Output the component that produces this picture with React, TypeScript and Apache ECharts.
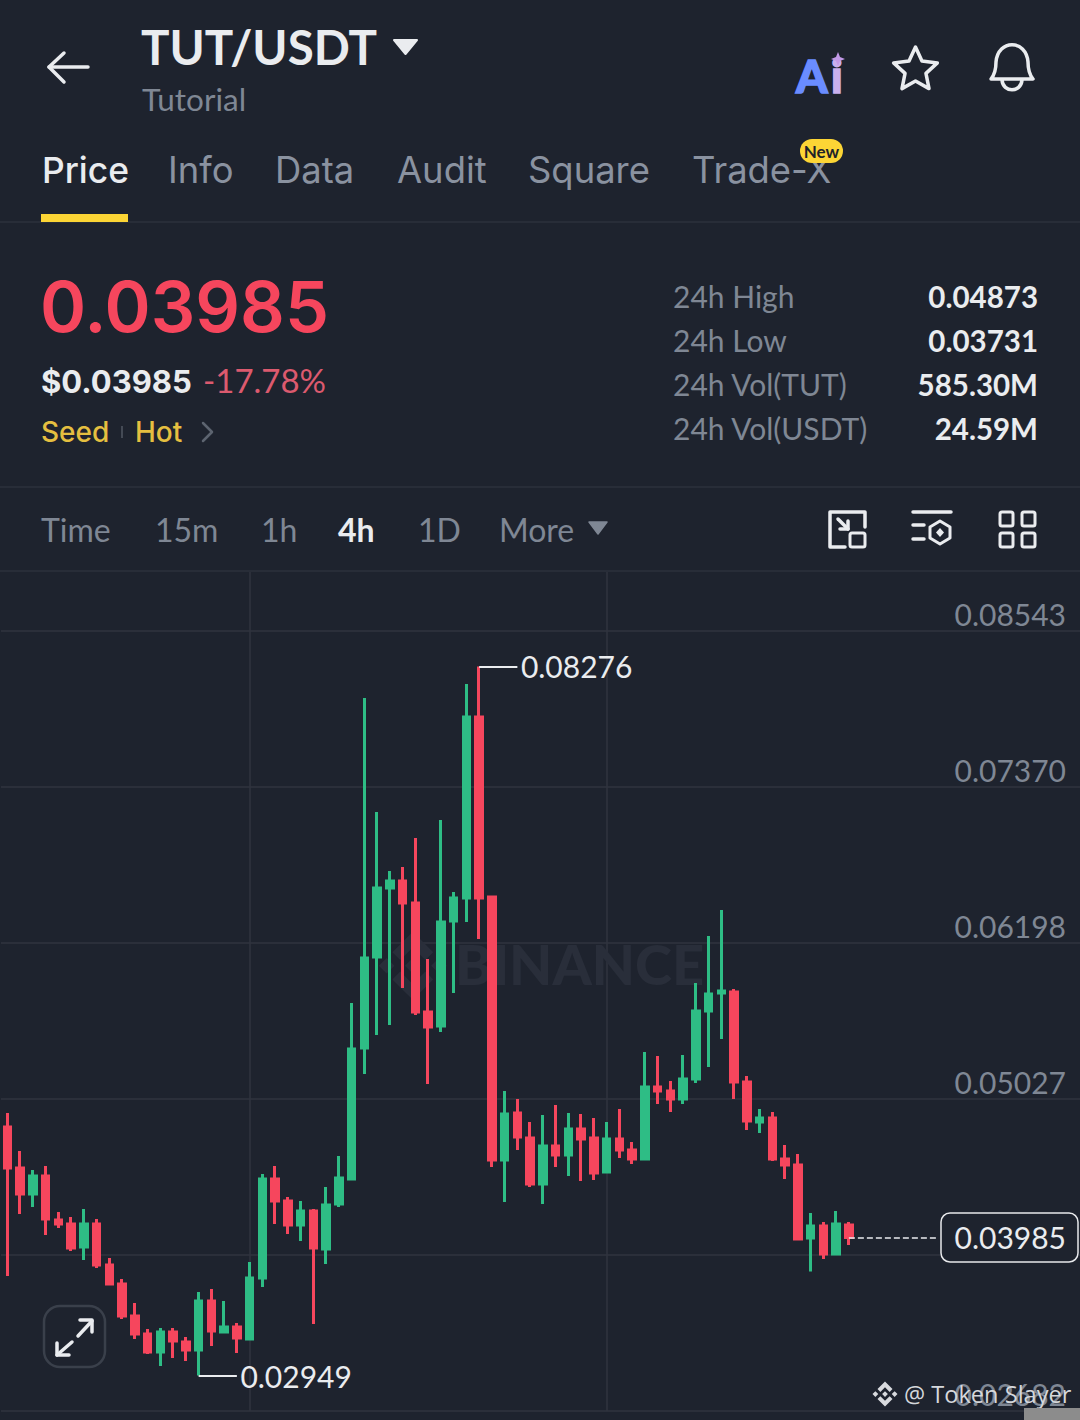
import React, { useEffect, useRef } from "react";
import * as echarts from "echarts";

const opens = [0.04816,0.04508,0.04313,0.04448,0.04117,0.04087,0.03914,0.04087,0.03779,0.03636,0.03396,0.03261,0.03125,0.03276,0.032,0.0314,0.03509,0.03276,0.03313,0.03223,0.03681,0.04425,0.0426,0.0408,0.04185,0.03899,0.04237,0.04425,0.0541,0.06093,0.06612,0.06664,0.06499,0.0568,0.05575,0.06364,0.06537,0.07897,0.06544,0.04568,0.04921,0.04733,0.04387,0.04673,0.04606,0.04801,0.04733,0.04478,0.04726,0.04643,0.04576,0.05117,0.05086,0.05026,0.05177,0.05688,0.05823,0.0583,0.05154,0.04853,0.04883,0.04576,0.04531,0.03982,0.04072,0.03862,0.0408];
const closes = [0.04508,0.04313,0.04448,0.04125,0.04087,0.03907,0.04087,0.03779,0.03636,0.03396,0.03261,0.03125,0.03276,0.03208,0.0314,0.03509,0.03283,0.03313,0.03231,0.03681,0.04425,0.0426,0.0408,0.04185,0.03907,0.0423,0.04433,0.05402,0.06086,0.06612,0.06664,0.06499,0.0568,0.05567,0.06356,0.06537,0.07897,0.06537,0.04568,0.04914,0.04741,0.04387,0.04673,0.04606,0.04801,0.04726,0.0447,0.04726,0.04643,0.04576,0.05117,0.05086,0.05026,0.05177,0.05688,0.05815,0.05838,0.05154,0.04861,0.04883,0.04576,0.04531,0.03974,0.04072,0.03862,0.04087,0.03985];
const lows = [0.03696,0.04162,0.04215,0.04005,0.04057,0.03884,0.03817,0.03757,0.03629,0.03373,0.03223,0.0311,0.0302,0.0308,0.03058,0.02949,0.0317,0.03268,0.03118,0.03215,0.03614,0.04087,0.04012,0.03959,0.03336,0.03787,0.04215,0.04425,0.05214,0.05507,0.05582,0.0586,0.05658,0.05139,0.0553,0.05823,0.06356,0.06229,0.04515,0.04252,0.04643,0.04365,0.04237,0.04515,0.04448,0.0441,0.04418,0.0447,0.04583,0.04538,0.04568,0.04989,0.04929,0.04989,0.05147,0.05267,0.05477,0.05026,0.04794,0.04771,0.04561,0.04425,0.03966,0.03731,0.03824,0.03855,0.03929];
const highs = [0.04921,0.04636,0.04493,0.04523,0.04177,0.0414,0.042,0.04125,0.03832,0.03674,0.03494,0.03298,0.03306,0.03306,0.03238,0.03576,0.03599,0.03509,0.03343,0.03802,0.04463,0.04523,0.0429,0.0426,0.042,0.04365,0.04598,0.05748,0.0804,0.07183,0.0674,0.0677,0.06988,0.06078,0.07123,0.06582,0.08145,0.08276,0.06552,0.05086,0.05026,0.04853,0.04906,0.04981,0.04921,0.04914,0.04883,0.04853,0.04951,0.04703,0.0538,0.0535,0.05162,0.05357,0.05898,0.06251,0.06446,0.05853,0.05199,0.04951,0.04929,0.04681,0.04613,0.0417,0.04102,0.04185,0.04102];
const gridTicks = [0.02682,0.03855,0.05027,0.06198,0.0737,0.08543];
const labelTicks = [0.02682,0.05027,0.06198,0.0737,0.08543];
const SLOT_COUNT = 85;
const categories = Array.from({ length: SLOT_COUNT }, (_, i) => String(i));
const highest = 0.08276;
const lowest = 0.02949;
const lastPrice = 0.03985;
const tabs = [["Price",42],["Info",168],["Data",275],["Audit",397],["Square",528],["Trade-X",692]] as const;
const periods = [["Time",41],["15m",155],["1h",261],["4h",338],["1D",418],["More",499]] as const;
const stats = [["24h High","0.04873",296],["24h Low","0.03731",340],["24h Vol(TUT)","585.30M",384],["24h Vol(USDT)","24.59M",428]] as const;

const BG = "#1e232e";
const UP = "#2ebd85";
const DOWN = "#f6465d";
const GRID = "#30353f";
const MUTED = "#7f8794";
const WHITE = "#eaecef";
const YELLOW = "#fcd535";
const LATO = "Lato, sans-serif";
const INTER = "Inter, sans-serif";

const LOGO = "M12 2L18 8L15.7 10.3L12 6.6L8.3 10.3L6 8ZM12 22L18 16L15.7 13.7L12 17.4L8.3 13.7L6 16ZM2 12L4.3 9.7L6.6 12L4.3 14.3ZM22 12L19.7 9.7L17.4 12L19.7 14.3ZM12 9.7L14.3 12L12 14.3L9.7 12Z";
const BELL = "M991 79C996 73 996 67 996 62C998 39 1026 39 1028 62C1028 67 1028 73 1033 79ZM1002 80C1003 93 1021 93 1022 80";
echarts.graphic.registerShape("logo", echarts.graphic.extendPath(LOGO as any, {} as any) as any);
echarts.graphic.registerShape("bell", echarts.graphic.extendPath(BELL as any, {} as any) as any);

function txt(text: string, x: number, y: number, size: number, fill: string, weight: any = 400, family = LATO, align = "left", z = 50, extra: any = {}) {
  return { type: "text", z, silent: true, style: { text, x, y, fill, fontSize: size, fontWeight: weight, fontFamily: family, align, verticalAlign: "middle", ...extra } };
}
function stroke(points: number[][], color = WHITE, w = 3.5, z = 50, extra: any = {}) {
  return { type: "polyline", z, silent: true, shape: { points }, style: { stroke: color, lineWidth: w, fill: "none", lineCap: "round", lineJoin: "round", ...extra } };
}
function hline(y: number) {
  return { type: "line", z: 1, silent: true, shape: { x1: 0, y1: y, x2: 1080, y2: y }, style: { stroke: "#2d323c", lineWidth: 1.5 } };
}
function starPoints(cx: number, cy: number, R: number, r: number) {
  const pts: number[][] = [];
  for (let i = 0; i < 10; i++) {
    const a = -Math.PI / 2 + (i * Math.PI) / 5;
    const q = i % 2 ? r : R;
    pts.push([cx + q * Math.cos(a), cy + q * Math.sin(a)]);
  }
  return pts;
}
function rrect(x: number, y: number, w: number, h: number, r: number, strokeC: string, lw = 3, fill = "none", z = 50) {
  return { type: "rect", z, silent: true, shape: { x, y, width: w, height: h, r }, style: { stroke: strokeC, lineWidth: lw, fill } };
}

function uiElements(): any[] {
  const els: any[] = [];
  // header
  els.push(stroke([[64, 53], [49, 67], [64, 82]]), stroke([[49, 67], [88, 67]]));
  els.push(txt("TUT/USDT", 141, 46, 47.5, WHITE, 700));
  els.push({ type: "polygon", z: 50, silent: true, shape: { points: [[394, 40], [417, 40], [405.5, 54]] }, style: { fill: WHITE, stroke: WHITE, lineWidth: 2, lineJoin: "round" } });
  els.push(txt("Tutorial", 142, 99, 31.5, MUTED));
  els.push(txt("A", 796, 76, 45, "#6a8cff", 900, LATO, "left", 50, { stroke: "#6a8cff", lineWidth: 1.5 }));
  els.push(txt("i", 831, 76, 45, "#c9b0ee", 900, LATO, "left", 50, { stroke: "#c9b0ee", lineWidth: 1.5 }));
  els.push({ type: "polygon", z: 51, silent: true, shape: { points: [[838, 52], [840, 57], [845, 59], [840, 61], [838, 66], [836, 61], [831, 59], [836, 57]] }, style: { fill: "#c39ae8" } });
  els.push({ type: "polygon", z: 50, silent: true, shape: { points: starPoints(915.5, 70, 23, 11) }, style: { fill: "none", stroke: WHITE, lineWidth: 3.5, lineJoin: "round" } });
  els.push({ type: "bell", z: 50, silent: true, style: { fill: "none", stroke: WHITE, lineWidth: 3.5, lineJoin: "round" } });
  // tabs
  tabs.forEach(([t, x], i) => els.push(txt(t, x, 170, i === 0 ? 35.4 : 36.4, i === 0 ? WHITE : "#8a92a0", i === 0 ? 500 : 400, INTER)));
  els.push({ type: "rect", z: 50, silent: true, shape: { x: 41, y: 214, width: 87, height: 8 }, style: { fill: YELLOW } });
  els.push(rrect(800, 139, 43, 24, 12, YELLOW, 0, YELLOW, 51));
  els.push(txt("New", 821.5, 151, 17, "#1e2329", 700, LATO, "center", 52));
  els.push(hline(222), hline(487), hline(571));
  // price block
  els.push(txt("0.03985", 40, 306, 70, DOWN, 600, INTER));
  els.push(txt("$0.03985", 41, 381, 31, WHITE, 700, INTER));
  els.push(txt("-17.78%", 203, 380, 33, "#dc5a6e", 400, LATO));
  els.push(txt("Seed", 41, 432, 28, "#e5bf40", 500, INTER));
  els.push({ type: "line", z: 50, silent: true, shape: { x1: 122, y1: 426, x2: 122, y2: 438 }, style: { stroke: "#444a55", lineWidth: 2 } });
  els.push(txt("Hot", 135, 432, 28, "#e5bf40", 500, INTER));
  els.push(stroke([[203, 423], [212, 432], [203, 441]], "#5d6470", 2.5));
  stats.forEach(([l, v, y]) => {
    els.push(txt(l, 673, y, 30, MUTED));
    els.push(txt(v, 1038, y, 29.5, WHITE, 700, LATO, "right"));
  });
  // period bar
  periods.forEach(([t, x]) => els.push(txt(t, x, 529, 32, t === "4h" ? WHITE : MUTED, t === "4h" ? 700 : 400)));
  els.push({ type: "polygon", z: 50, silent: true, shape: { points: [[589, 522], [607, 522], [598, 534]] }, style: { fill: MUTED, stroke: MUTED, lineWidth: 1.5, lineJoin: "round" } });
  els.push(stroke([[865, 527], [865, 512], [830, 512], [830, 547], [845, 547]]));
  els.push(rrect(850, 533, 15, 14, 2, WHITE));
  els.push(stroke([[838, 519], [848, 529]]), stroke([[848, 521], [848, 529], [840, 529]]));
  els.push(stroke([[913, 512], [951, 512]]), stroke([[913, 525], [924, 525]]), stroke([[913, 539], [924, 539]]));
  els.push({ type: "polygon", z: 50, silent: true, shape: { points: [[940, 521], [950, 527], [950, 538], [940, 544], [930, 538], [930, 527]] }, style: { fill: "none", stroke: WHITE, lineWidth: 3, lineJoin: "round" } });
  els.push({ type: "polygon", z: 50, silent: true, shape: { points: [[940, 528], [944, 532.5], [940, 537], [936, 532.5]] }, style: { fill: WHITE } });
  [[1000, 512], [1022, 512], [1000, 533], [1022, 533]].forEach(([x, y]) => els.push(rrect(x, y, 13, 14, 2, WHITE)));
  // watermark
  els.push({ type: "logo", z: 1, x: 372, y: 925, scaleX: 3.4, scaleY: 3.4, silent: true, style: { fill: "#292e3a" } });
  els.push(txt("BINANCE", 455, 963, 56, "#292e3a", 900, LATO, "left", 1));
  // expand button
  els.push(rrect(44, 1306, 61, 61, 16, "#3a404b", 2.5));
  els.push(stroke([[78, 1336], [92, 1321]]), stroke([[80, 1320], [92, 1320], [92, 1332]]));
  els.push(stroke([[72, 1342], [57, 1355]]), stroke([[57, 1343], [57, 1355], [69, 1355]]));
  // last price box
  els.push(rrect(941, 1213, 137, 49, 9, "#e8e9ec", 1.5, BG, 40));
  els.push(txt(String(lastPrice), 1066, 1237, 30, WHITE, 400, LATO, "right", 41));
  // credit
  els.push({ type: "logo", z: 60, x: 870, y: 1379, scaleX: 1.25, scaleY: 1.25, silent: true, style: { fill: "#d8dade" } });
  els.push(txt("@ Token Slayer", 904, 1394, 23.6, "#d5d7db", 400, "Open Sans, sans-serif", "left", 60));
  els.push({ type: "rect", z: 60, silent: true, shape: { x: 1024, y: 1408, width: 56, height: 12 }, style: { fill: "#8c8c8c" } });
  return els;
}

export default function App() {
  const ref = useRef<HTMLDivElement>(null);
  useEffect(() => {
    document.body.style.margin = "0";
    document.body.style.background = BG;
    const chart = echarts.init(ref.current!, undefined, { renderer: "svg" });
    const ohlc = opens.map((o, i) => [o, closes[i], lows[i], highs[i]]);
    const note = (cat: string, value: number, dy: number) => ({
      name: String(value), coord: [cat, value], symbol: "circle", symbolSize: 1,
      itemStyle: { color: "rgba(0,0,0,0)" },
      label: { show: true, position: "right", distance: 3, offset: [0, dy], formatter: "{b}", color: WHITE, fontSize: 30, fontFamily: LATO },
    });
    const seg = (a: string, b: string, v: number, type: string, width: number) => [
      { coord: [a, v], symbol: "none", lineStyle: { color: WHITE, type, width } },
      { coord: [b, v], symbol: "none" },
    ];
    chart.setOption({
      animation: false,
      backgroundColor: BG,
      grid: { left: 1, top: 572, width: 1083.75, height: 839, containLabel: false, outerBoundsMode: "none" },
      xAxis: {
        type: "category", data: categories, boundaryGap: true,
        axisLine: { show: false }, axisTick: { show: false, alignWithLabel: true }, axisLabel: { show: false },
        splitLine: { show: true, alignWithLabel: true, interval: (i: number) => i === 19 || i === 47, lineStyle: { color: GRID, width: 1.5 } },
      },
      yAxis: {
        type: "value", position: "right", min: 0.02682, max: 0.08986, scale: true,
        axisLine: { show: false },
        axisTick: { show: false, customValues: gridTicks },
        axisLabel: { inside: true, margin: 18.75, customValues: labelTicks, formatter: (v: number) => v.toFixed(5), color: MUTED, fontSize: 30, fontFamily: LATO, verticalAlign: "bottom", lineHeight: 34 },
        splitLine: { show: true, lineStyle: { color: GRID, width: 1.5 } },
      },
      series: [{
        type: "candlestick", data: ohlc, barWidth: 7, clip: false,
        itemStyle: { color: UP, color0: DOWN, borderColor: UP, borderColor0: DOWN, borderWidth: 3 },
        markPoint: { silent: true, animation: false, data: [note("40", highest, 0), note("18", lowest, 1)] },
        markLine: {
          silent: true, animation: false, symbol: "none", label: { show: false },
          data: [seg("37", "40", highest, "solid", 2), seg("15", "18", lowest, "solid", 2), seg("66", "73", lastPrice, "dashed", 1.5)],
        },
      }],
      graphic: { elements: uiElements() },
    });
    return () => chart.dispose();
  }, []);
  return <div ref={ref} style={{ position: "absolute", left: 0, top: 0, width: 1080, height: 1420 }} />;
}
